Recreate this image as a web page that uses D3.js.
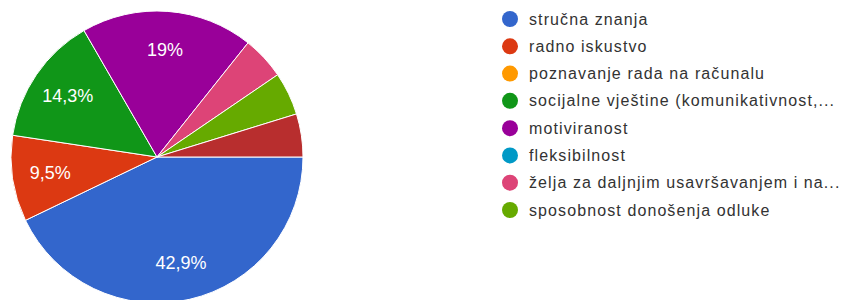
<!DOCTYPE html>
<html>
<head>
<meta charset="utf-8">
<script src="https://cdn.jsdelivr.net/npm/d3@7"></script>
<style>
  body { margin: 0; background: #fff; }
  svg { font-family: Arial, "Liberation Sans", sans-serif; }
</style>
</head>
<body>
<svg id="chart" width="858" height="300"></svg>
<script>
// answers (21 responses), in slice order
const categories = [
    'stručna znanja',
    'radno iskustvo',
    'poznavanje rada na računalu',
    'socijalne vještine (komunikativnost,...',
    'motiviranost',
    'fleksibilnost',
    'želja za daljnjim usavršavanjem i na...',
    'sposobnost donošenja odluke',
    'ostalo'
];
const counts = [9, 2, 0, 3, 4, 0, 1, 1, 1];
const colors = ['#3366cc', '#dc3912', '#ff9900', '#109618', '#990099', '#0099c6', '#dd4477', '#66aa00', '#b82e2e'];
const legendShown = 8; // legend only lists the first page

const width = 858, height = 300;
const cx = 157, cy = 157, radius = 146;

const svg = d3.select('#chart');

const data = categories.map((c, i) => ({name: c, value: counts[i], color: colors[i]}));
const total = d3.sum(counts);

const pie = d3.pie()
    .value(d => d.value)
    .sort(null)
    .startAngle(Math.PI / 2)
    .endAngle(Math.PI / 2 + 2 * Math.PI);

const arc = d3.arc().innerRadius(0).outerRadius(radius);
const labelArc = d3.arc().innerRadius(radius * 0.74).outerRadius(radius * 0.74);

const g = svg.append('g').attr('transform', `translate(${cx},${cy})`);

const arcs = pie(data).filter(d => d.data.value > 0);

g.selectAll('path')
    .data(arcs)
    .enter()
    .append('path')
    .attr('d', arc)
    .attr('fill', d => d.data.color)
    .attr('stroke', '#fff')
    .attr('stroke-width', 1);

const fmt = v => {
    let p = Math.round(v / total * 1000) / 10;
    return String(p).replace('.', ',') + '%';
};

g.selectAll('text.pct')
    .data(arcs.filter(d => d.data.value / total > 0.06))
    .enter()
    .append('text')
    .attr('class', 'pct')
    .attr('transform', d => `translate(${labelArc.centroid(d)})`)
    .attr('text-anchor', 'middle')
    .attr('dy', '0.35em')
    .attr('fill', '#fff')
    .style('font-size', '18px')
    .text(d => fmt(d.data.value));

// legend
const legendY = d3.scalePoint()
    .domain(d3.range(legendShown))
    .range([19, 210]);

const legend = svg.append('g')
    .selectAll('g')
    .data(data.slice(0, legendShown))
    .enter()
    .append('g')
    .attr('transform', (d, i) => `translate(510,${legendY(i)})`);

legend.append('circle')
    .attr('r', 8)
    .attr('fill', d => d.color);

legend.append('text')
    .attr('x', 19)
    .attr('dy', '0.35em')
    .attr('fill', '#333')
    .style('font-size', '16px')
    .style('letter-spacing', '1.1px')
    .text(d => d.name);
</script>
</body>
</html>
